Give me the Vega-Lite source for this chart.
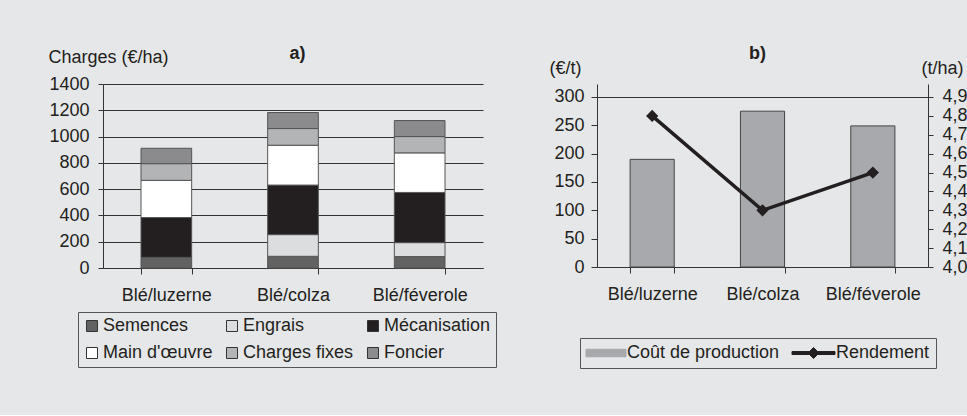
{
  "$schema": "https://vega.github.io/schema/vega-lite/v6.json",
  "background": "#e6e7e8",
  "padding": {"left": 48, "top": 44, "right": 0, "bottom": 46},
  "spacing": 52,
  "resolve": {"scale": {"color": "independent"}, "legend": {"color": "independent"}},
  "config": {
    "font": "Liberation Sans",
    "view": {"stroke": null},
    "axis": {
      "labelFontSize": 18, "titleFontSize": 18, "labelColor": "#231f20", "titleColor": "#231f20",
      "titleFontWeight": "normal", "domainColor": "#333", "tickColor": "#333", "labelFont": "Liberation Sans", "titleFont": "Liberation Sans",
      "labelOverlap": false
    },
    "legend": {"labelFontSize": 18, "labelColor": "#231f20", "labelFont": "Liberation Sans"}
  },
  "hconcat": [
    {
      "width": 380,
      "height": 184,
      "data": {"values": [
        {"rotation": "Blé/luzerne", "poste": "Semences", "rang": 1, "charge": 81},
        {"rotation": "Blé/luzerne", "poste": "Mécanisation", "rang": 3, "charge": 303},
        {"rotation": "Blé/luzerne", "poste": "Main d'œuvre", "rang": 4, "charge": 283},
        {"rotation": "Blé/luzerne", "poste": "Charges fixes", "rang": 5, "charge": 127},
        {"rotation": "Blé/luzerne", "poste": "Foncier", "rang": 6, "charge": 117},
        {"rotation": "Blé/colza", "poste": "Semences", "rang": 1, "charge": 89},
        {"rotation": "Blé/colza", "poste": "Engrais", "rang": 2, "charge": 165},
        {"rotation": "Blé/colza", "poste": "Mécanisation", "rang": 3, "charge": 377},
        {"rotation": "Blé/colza", "poste": "Main d'œuvre", "rang": 4, "charge": 303},
        {"rotation": "Blé/colza", "poste": "Charges fixes", "rang": 5, "charge": 127},
        {"rotation": "Blé/colza", "poste": "Foncier", "rang": 6, "charge": 122},
        {"rotation": "Blé/féverole", "poste": "Semences", "rang": 1, "charge": 87},
        {"rotation": "Blé/féverole", "poste": "Engrais", "rang": 2, "charge": 106},
        {"rotation": "Blé/féverole", "poste": "Mécanisation", "rang": 3, "charge": 382},
        {"rotation": "Blé/féverole", "poste": "Main d'œuvre", "rang": 4, "charge": 301},
        {"rotation": "Blé/féverole", "poste": "Charges fixes", "rang": 5, "charge": 124},
        {"rotation": "Blé/féverole", "poste": "Foncier", "rang": 6, "charge": 122}
      ]},
      "mark": {"type": "bar", "stroke": "#555", "strokeWidth": 1},
      "encoding": {
        "x": {
          "field": "rotation", "type": "nominal",
          "sort": ["Blé/luzerne", "Blé/colza", "Blé/féverole"],
          "scale": {"paddingInner": 0.6, "paddingOuter": 0.3},
          "axis": {
            "title": "a)", "titleFontWeight": "bold", "titleX": 194, "titleY": -210,
            "titleAlign": "center", "titleBaseline": "alphabetic",
            "labelAngle": 0, "tickBand": "extent", "tickSize": 6, "labelPadding": 12
          }
        },
        "y": {
          "field": "charge", "type": "quantitative", "stack": "zero",
          "scale": {"domain": [0, 1400], "nice": false},
          "axis": {
            "values": [0, 200, 400, 600, 800, 1000, 1200, 1400], "format": "d",
            "title": "Charges (€/ha)", "titleAngle": 0, "titleAlign": "left",
            "titleX": -55, "titleY": -22, "titleBaseline": "alphabetic",
            "grid": true, "gridColor": "#333", "tickSize": 5, "labelPadding": 9
          }
        },
        "order": {"field": "rang", "type": "quantitative", "sort": "ascending"},
        "color": {
          "field": "poste", "type": "nominal",
          "sort": ["Semences", "Engrais", "Mécanisation", "Main d'œuvre", "Charges fixes", "Foncier"],
          "scale": {
            "domain": ["Semences", "Engrais", "Mécanisation", "Main d'œuvre", "Charges fixes", "Foncier"],
            "range": ["#626262", "#dcdddf", "#231f20", "#ffffff", "#b3b4b6", "#8b8b8d"]
          },
          "legend": {
            "orient": "none", "legendX": -25, "legendY": 228, "direction": "horizontal",
            "columns": 3, "title": null, "strokeColor": "#555", "padding": 5,
            "symbolType": "square", "symbolSize": 121, "symbolStrokeColor": "#333",
            "symbolStrokeWidth": 1, "labelOffset": 2, "rowPadding": 9, "columnPadding": 10,
            "labelLimit": 300
          }
        }
      }
    },
    {
      "width": 331,
      "height": 183,
      "data": {"values": [
        {"rotation": "Blé/luzerne", "cout": 190, "rendement": 4.8},
        {"rotation": "Blé/colza", "cout": 275, "rendement": 4.3},
        {"rotation": "Blé/féverole", "cout": 249, "rendement": 4.5}
      ]},
      "layer": [
        {
          "mark": {"type": "bar", "stroke": "#444", "strokeWidth": 1},
          "encoding": {
            "x": {
              "field": "rotation", "type": "nominal",
              "sort": ["Blé/luzerne", "Blé/colza", "Blé/féverole"],
              "scale": {"paddingInner": 0.6, "paddingOuter": 0.3},
              "axis": {
                "title": "b)", "titleFontWeight": "bold", "titleX": 160, "titleY": -209,
                "titleAlign": "center", "titleBaseline": "alphabetic",
                "labelAngle": 0, "tickBand": "extent", "tickSize": 6, "labelPadding": 12
              }
            },
            "y": {
              "field": "cout", "type": "quantitative",
              "scale": {"domain": [0, 322.94], "nice": false},
              "axis": {
                "values": [0, 50, 100, 150, 200, 250, 300],
                "title": "(€/t)", "titleAngle": 0, "titleAlign": "left",
                "titleX": -48, "titleY": -11, "titleBaseline": "alphabetic",
                "grid": true, "gridColor": "#333",
                "gridOpacity": {"condition": {"test": "datum.value === 300", "value": 1}, "value": 0},
                "tickSize": 6, "labelPadding": 7
              }
            },
            "color": {
              "datum": "Coût de production",
              "scale": {"domain": ["Coût de production", "Rendement"], "range": ["#a7a9ac", "#231f20"]},
              "legend": {
                "orient": "none", "legendX": -17, "legendY": 254, "direction": "horizontal",
                "title": null, "strokeColor": "#555", "padding": 6, "symbolSize": 100,
                "labelOffset": 23, "columnPadding": 10, "labelLimit": 300,
                "encode": {"symbols": {"update": {
                  "shape": {"signal": "datum.value === 'Rendement' ? 'M-2.4,-0.3H6.2V0.3H-2.4Z M1.9,-1.1L3,0L1.9,1.1L0.8,0Z' : 'M-1.8,-0.75H6.2V0.75H-1.8Z'"},
                  "fill": {"signal": "datum.value === 'Rendement' ? '#231f20' : '#a7a9ac'"},
                  "stroke": {"value": "#333"},
                  "strokeWidth": {"value": 1},
                  "opacity": {"value": 1}
                }}}
              }
            }
          }
        },
        {
          "mark": {
            "type": "line", "strokeWidth": 3.5,
            "point": {"shape": "diamond", "filled": true, "size": 150, "color": "#231f20", "opacity": 1}
          },
          "encoding": {
            "x": {"field": "rotation", "type": "nominal", "sort": ["Blé/luzerne", "Blé/colza", "Blé/féverole"]},
            "y": {
              "field": "rendement", "type": "quantitative",
              "scale": {"domain": [4.0, 4.9688], "nice": false, "zero": false},
              "axis": {
                "orient": "right",
                "values": [4.0, 4.1, 4.2, 4.3, 4.4, 4.5, 4.6, 4.7, 4.8, 4.9],
                "labelExpr": "replace(format(datum.value, '.1f'), '.', ',')",
                "labelOverlap": false,
                "title": "(t/ha)", "titleAngle": 0, "titleAlign": "left",
                "titleX": -7, "titleY": -11, "titleBaseline": "alphabetic",
                "tickSize": 5, "labelPadding": 9, "grid": false
              }
            },
            "color": {
              "datum": "Rendement",
              "legend": {
                "orient": "none", "legendX": -17, "legendY": 254, "direction": "horizontal",
                "title": null, "strokeColor": "#555", "padding": 6, "symbolSize": 100,
                "labelOffset": 23, "columnPadding": 10, "labelLimit": 300,
                "encode": {"symbols": {"update": {
                  "shape": {"signal": "datum.value === 'Rendement' ? 'M-2.4,-0.3H6.2V0.3H-2.4Z M1.9,-1.1L3,0L1.9,1.1L0.8,0Z' : 'M-1.8,-0.75H6.2V0.75H-1.8Z'"},
                  "fill": {"signal": "datum.value === 'Rendement' ? '#231f20' : '#a7a9ac'"},
                  "stroke": {"value": "#333"},
                  "strokeWidth": {"value": 1},
                  "opacity": {"value": 1}
                }}}
              }
            }
          }
        }
      ],
      "resolve": {"scale": {"y": "independent"}}
    }
  ]
}
